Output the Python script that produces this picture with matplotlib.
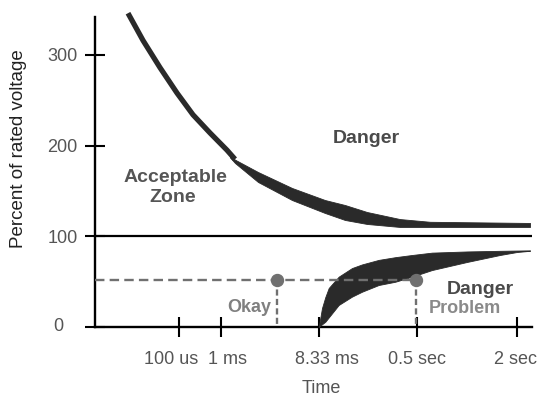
import matplotlib
matplotlib.use("Agg")
import matplotlib.pyplot as plt
import matplotlib.transforms as mtrans

plt.rcParams['font.family'] = ['Liberation Sans', 'DejaVu Sans']

# ---- data (schematic time axis, positions in arbitrary units) ----
x_tick_pos = [84, 126, 224, 322, 422]
x_tick_labels = ["100 us", "1 ms", "8.33 ms", "0.5 sec", "2 sec"]
y_ticks = [0, 100, 200, 300]
y_tick_labels = ["0", "100", "200", "300"]

# upper limit curve, steep part (centre line)
upper_steep_x = [33, 48, 65, 82, 98, 115, 132, 140]
upper_steep_v = [346, 316, 286, 258, 234, 214, 195, 185]

# upper limit curve, widening band
upper_band_x = [135, 140, 163, 197, 230, 250, 272, 305, 335, 435]
upper_band_hi = [189, 184.5, 170.9, 153.3, 140.0, 134.5, 126.8, 119.0, 116.0, 114.7]
upper_band_lo = [187, 180.8, 159.9, 140.0, 125.7, 118.0, 113.6, 110.3, 110.3, 110.3]

# lower limit curve band
lower_band_x = [223.7, 227, 230.3, 233.7, 243.7, 257, 267, 283.7, 300.3, 317, 337, 372, 405, 422, 435]
lower_band_hi = [0, 20.9, 33, 43, 55.5, 65, 69, 74, 77, 79.4, 82.0, 83.3, 84.0, 84.3, 84.5]
lower_band_lo = [0, 3, 5.8, 10.5, 24.3, 33.5, 38.9, 46.3, 49.9, 55.5, 62.8, 71.7, 79.4, 82.7, 84.0]

rated_level = 100
sag_level = 52
sag_points_x = [182, 321]

fig = plt.figure(figsize=(5.42, 3.99), dpi=100)
ax = fig.add_axes([0.17528, 0.18045, 0.80627, 0.77694])
ax.set_xlim(0, 437)
ax.set_ylim(0, 341.8)

curve_col = '#2a2a2a'
gray = '#707070'

ax.plot(upper_steep_x, upper_steep_v, color=curve_col, lw=3.8,
        solid_capstyle='butt', solid_joinstyle='round', clip_on=False, zorder=3)
ax.fill_between(upper_band_x, upper_band_lo, upper_band_hi, color=curve_col,
                lw=0.6, edgecolor=curve_col, zorder=3)
ax.fill_between(lower_band_x, lower_band_lo, lower_band_hi, color=curve_col,
                lw=0.6, edgecolor=curve_col, zorder=3)

# rated voltage line
ax.plot([0, 437], [rated_level, rated_level], color='black', lw=1.6, zorder=2)

# sag illustration
ax.plot([0, sag_points_x[1]], [sag_level, sag_level], color=gray, lw=1.7,
        dashes=(4, 2.2), zorder=4)
for px in sag_points_x:
    ax.plot([px, px], [sag_level, 0], color=gray, lw=1.7, dashes=(2.6, 1.4), zorder=4)
ax.plot(sag_points_x, [sag_level] * len(sag_points_x), 'o', color=gray,
        markersize=8.6, zorder=5)

# texts
ax.text(271.5, 202.5, "Danger", ha='center', va='baseline', fontsize=14,
        fontweight='bold', color='#4a4a4a')
ax.text(80, 160.2, "Acceptable", ha='center', va='baseline', fontsize=14,
        fontweight='bold', color='#555555')
ax.text(78, 138.1, "Zone", ha='center', va='baseline', fontsize=14,
        fontweight='bold', color='#555555')
ax.text(385, 36.4, "Danger", ha='center', va='baseline', fontsize=14,
        fontweight='bold', color='#4a4a4a')
ax.text(370, 15.4, "Problem", ha='center', va='baseline', fontsize=13,
        fontweight='bold', color='#8a8a8a')
ax.text(154, 16.9, "Okay", ha='center', va='baseline', fontsize=13,
        fontweight='bold', color='#808080')

# axes styling
for s in ['top', 'right']:
    ax.spines[s].set_visible(False)
for s in ['left', 'bottom']:
    ax.spines[s].set_linewidth(1.7)
    ax.spines[s].set_color('black')

ax.set_xticks(x_tick_pos)
ax.set_xticklabels(x_tick_labels)
ax.set_yticks(y_ticks)
ax.set_yticklabels(y_tick_labels, ha='center')
ax.tick_params(axis='both', direction='inout', length=15, width=1.5,
               colors='black', labelcolor='#555555', labelsize=13)
ax.tick_params(axis='y', pad=16)
ax.tick_params(axis='x', pad=10)

# small horizontal nudges of tick labels (pixels), as in the original layout
x_label_nudge = [-8, 6, 8, 0, -2]
for lab, dx in zip(ax.get_xticklabels(), x_label_nudge):
    lab.set_transform(lab.get_transform() +
                      mtrans.ScaledTranslation(dx / 100, 0, fig.dpi_scale_trans))
y_label_nudge = [-4, 0, 0, 0]
for lab, dx in zip(ax.get_yticklabels(), y_label_nudge):
    lab.set_transform(lab.get_transform() +
                      mtrans.ScaledTranslation(dx / 100, 3 / 100 if dx else 0,
                                               fig.dpi_scale_trans))

ax.set_ylabel("Percent of rated voltage", fontsize=13.5, color='#222222')
ax.yaxis.set_label_coords(-0.155, 0.574)
ax.set_xlabel("Time", fontsize=13, color='#555555')
ax.xaxis.set_label_coords(0.519, -0.171)

fig.savefig("out.png", dpi=100)
